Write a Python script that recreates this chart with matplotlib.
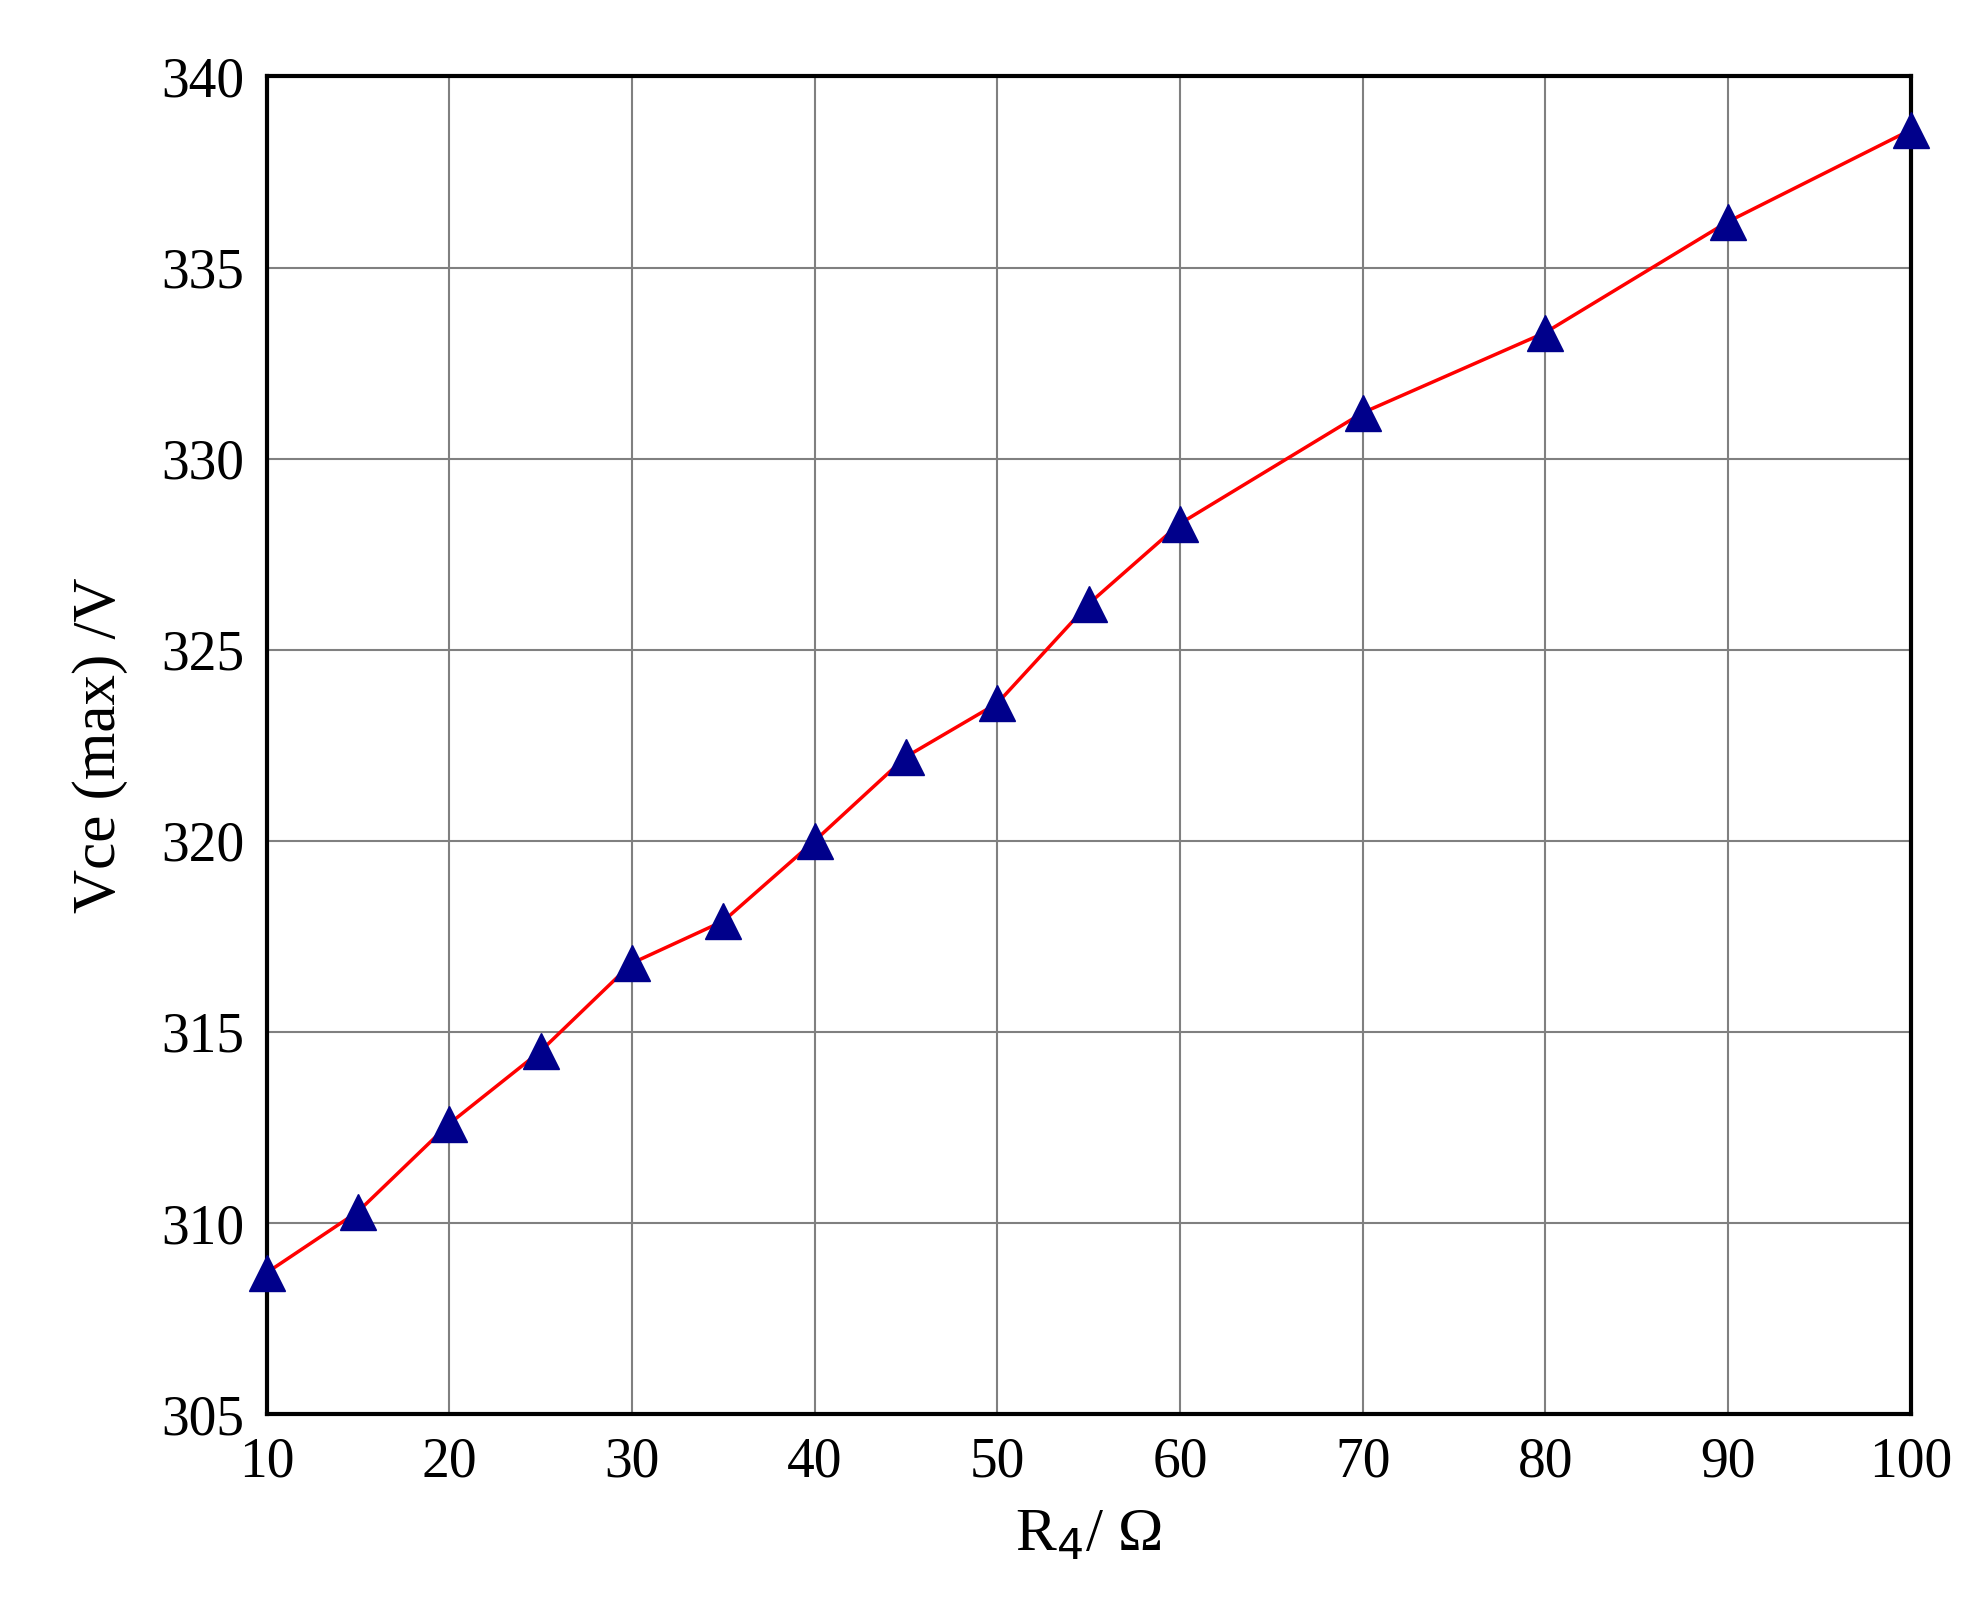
import matplotlib
matplotlib.use("Agg")
import matplotlib.pyplot as plt

r4 = [10, 15, 20, 25, 30, 35, 40, 45, 50, 55, 60, 70, 80, 90, 100]
vce = [308.7, 310.3, 312.6, 314.5, 316.8, 317.9, 320.0, 322.2, 323.6, 326.2, 328.3, 331.2, 333.3, 336.2, 338.6]
xticks = [10, 20, 30, 40, 50, 60, 70, 80, 90, 100]
yticks = [305, 310, 315, 320, 325, 330, 335, 340]

plt.rcParams['font.family'] = ['Liberation Serif', 'DejaVu Serif']
fig = plt.figure(figsize=(19.83, 16.13), dpi=100)
ax = fig.add_axes([0.1345, 0.1233, 0.8385 - 0.0095, 0.8293])
ax.plot(r4, vce, color='red', lw=2.5, marker='^', ms=26, mfc='#00008B', mec='#00008B', clip_on=False, zorder=3)
ax.set_xlim(10, 100)
ax.set_ylim(305, 340)
ax.set_xticks(xticks)
ax.set_yticks(yticks)
ax.grid(True, color='#808080', lw=1.5)
for s in ax.spines.values():
    s.set_linewidth(3)
ax.tick_params(labelsize=40, direction='in', length=0, pad=16)
ax.set_xlabel(r'R$_4$/ Ω', fontsize=44, labelpad=14)
ax.set_ylabel('Vce (max) /V', fontsize=44, labelpad=24)
fig.savefig('out.png')
